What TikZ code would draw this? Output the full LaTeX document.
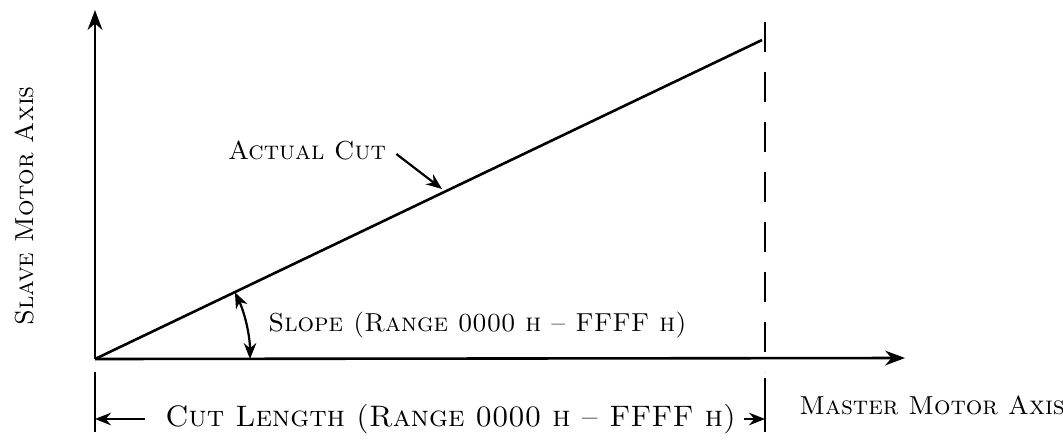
\documentclass[tikz,border=0pt]{standalone}
\usepackage{tikz}
\usetikzlibrary{positioning,arrows.meta,calc}

\begin{document}
\begin{tikzpicture}[
  x=0.5pt, y=-0.5pt,
  axis/.style={line width=1.3pt, -{Stealth[length=3.5mm,width=2.6mm]}},
  arr/.style={line width=1.1pt, -{Stealth[length=2.8mm,width=2.2mm]}},
  lbl/.style={font=\fontsize{13}{15}\selectfont\scshape, inner sep=1pt}
]
\useasboundingbox (0,0) rectangle (1063,445);

% axes and the cut
\coordinate (O) at (95,359);
\coordinate (ytop) at (95,10);
\coordinate (xend) at (905,358);
\coordinate (cutend) at (762,40);
\draw[axis] (O) -- (ytop);
\draw[axis] (O) -- (xend);
\draw[line width=1.3pt] (O) -- (cutend);

% end of cut length
\coordinate (dtop) at (765,22);
\coordinate (dbot) at (765,372);
\draw[line width=1.2pt, dash pattern=on 15pt off 10pt] (dtop) -- (dbot);

\node[lbl, rotate=90] (slave) at (24,206) {Slave Motor Axis};
\node[lbl, anchor=west] (master) at (797,405) {Master Motor Axis};

% actual cut label
\node[lbl] (actual) at (307,150) {Actual Cut};
\coordinate (ontheline) at (442,189);
\draw[arr] ([xshift=4pt,yshift=-2pt]actual.east) -- (ontheline);

% slope
\coordinate (sl1) at ($(O)+(-25.5:155)$);
\draw[arr, {Stealth[length=2.8mm,width=2.2mm]}-{Stealth[length=2.8mm,width=2.2mm]}]
  (sl1) arc[start angle=-25.5, end angle=0, radius=155];
\node[lbl, anchor=west] (slope) at (266,325) {Slope (Range 0000 h -- FFFF h)};

% cut length
\coordinate (ltop) at (95,372);
\coordinate (lbot) at (95,432);
\coordinate (lmid) at (95,419);
\coordinate (rtop) at (765,378);
\coordinate (rbot) at (765,432);
\coordinate (rmid) at (765,419);
\draw[line width=1.3pt] (ltop) -- (lbot);
\draw[line width=1.3pt] (rtop) -- (rbot);
\node[lbl, anchor=west, font=\fontsize{14.8}{17}\selectfont\scshape] (cutlen) at (163,419) {Cut Length (Range 0000 h -- FFFF h)};
\draw[arr] ([xshift=-9pt]cutlen.west) -- (lmid);
\draw[arr] ([xshift=3pt]cutlen.east) -- (rmid);
\end{tikzpicture}
\end{document}
